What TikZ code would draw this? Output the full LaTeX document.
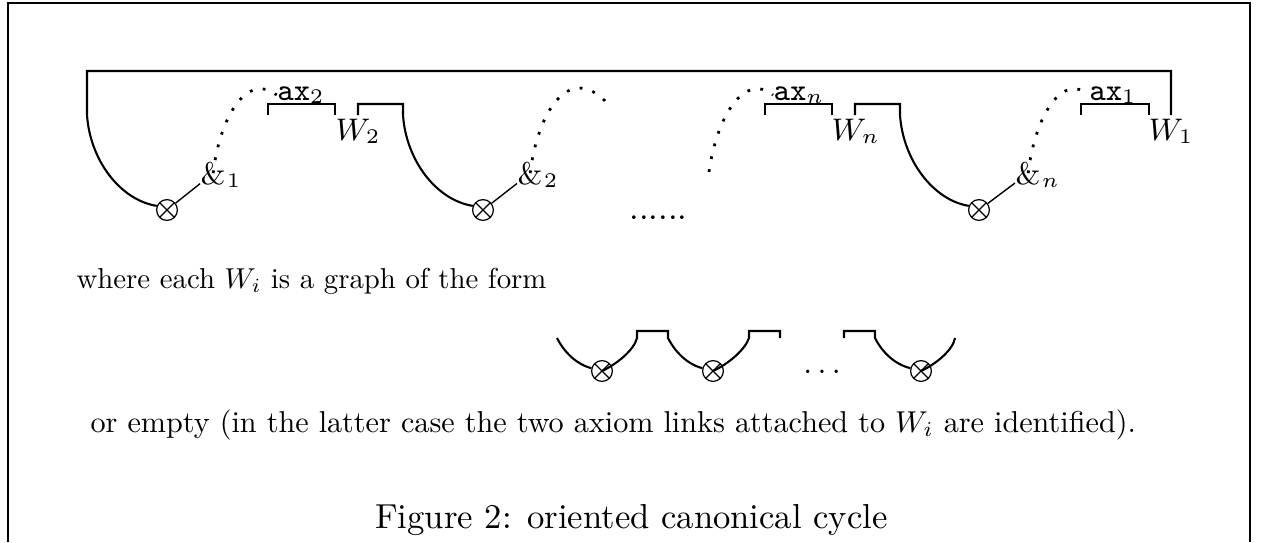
\documentclass[tikz,border=0pt]{standalone}
\tikzset{
  wire/.style={line width=0.6pt},
  thinwire/.style={line width=0.4pt},
  axlink/.style={line width=0.8pt, dash pattern=on 0.8pt off 3pt},
  tensor/.style={circle, draw, line width=0.35pt, inner sep=0pt, minimum size=6pt,
    path picture={\draw[line width=0.35pt]
      (path picture bounding box.north west) -- (path picture bounding box.south east)
      (path picture bounding box.south west) -- (path picture bounding box.north east);}},
  lbl/.style={inner sep=0pt, font=\fontsize{9}{11}\selectfont},
  txt/.style={inner sep=0pt, anchor=base west},
}
\begin{document}
\begin{tikzpicture}[x=0.2882pt,y=-0.2882pt]
\useasboundingbox (0,0) rectangle (1263,542);
% frame
\draw[line width=0.5pt] (8,542) -- (8,3) -- (1250,3) -- (1250,542);

% tensor links of the cycle
\node[tensor] (ot1) at (167,210) {};
\node[tensor] (ot2) at (483,210) {};
\node[tensor] (otn) at (979,210) {};

% par links
\node[lbl, anchor=base west] (amp1) at (200,184) {\&};
\node[lbl, anchor=base west] (amp1i) at (amp1.base east) {$_1$};
\node[lbl, anchor=base west] (amp2) at (517,184) {\&};
\node[lbl, anchor=base west] (amp2i) at (amp2.base east) {$_2$};
\node[lbl, anchor=base west] (ampn) at (1015,184) {\&};
\node[lbl, anchor=base west] (ampni) at (ampn.base east) {$_n$};

% axiom labels
\node[lbl, anchor=base] (ax2) at (301,100) {$\mathtt{ax}_2$};
\node[lbl, anchor=base] (axn) at (799,100) {$\mathtt{ax}_n$};
\node[lbl, anchor=base] (ax1) at (1113,100) {$\mathtt{ax}_1$};

% W labels
\node[lbl, anchor=base west] (W2) at (335,140) {$W_2$};
\node[lbl, anchor=base west] (Wn) at (831,140) {$W_n$};
\node[lbl, anchor=base west] (W1) at (1148,140) {$W_1$};

% wires
\draw[wire] (1171,115) -- (1171,71) -- (87,71) -- (87,115)
  .. controls (90,160) and (120,200) .. (ot1.158);
\draw[wire] (268,115) -- (268,104) -- (335,104) -- (335,115);
\draw[wire] (358,115) -- (358,104) -- (403,104) -- (403,115)
  .. controls (406,160) and (436,200) .. (ot2.158);
\draw[wire] (765,115) -- (765,104) -- (832,104) -- (832,115);
\draw[wire] (855,115) -- (855,104) -- (900,104) -- (900,115)
  .. controls (903,160) and (933,200) .. (otn.158);
\draw[wire] (1081,115) -- (1081,104) -- (1149,104) -- (1149,115);

% tensor to par
\draw[thinwire] (ot1) -- (amp1);
\draw[thinwire] (ot2) -- (amp2);
\draw[thinwire] (otn) -- (ampn);

% axiom links (dotted)
\coordinate (cut2) at (608,104);
\coordinate (cut3) at (709,172);
\draw[axlink] (amp1.center) .. controls (220,115) and (248,72) .. (ax2.west);
\draw[axlink] (amp2.center) .. controls (537,115) and (568,60) .. (cut2);
\draw[axlink] (cut3) .. controls (717,115) and (745,72) .. (axn.west);
\draw[axlink] (ampn.center) .. controls (1035,115) and (1063,72) .. (ax1.west);

\node[txt] (gap) at (629,219) {......};

% texts
\node[txt, scale=0.83] (where) at (76,288) {where each $W_i$ is a graph of the form};
\node[txt, scale=0.87] (orempty) at (90,432) {or empty (in the latter case the two axiom links attached to $W_i$ are identified).};
\node[inner sep=0pt, anchor=base] (caption) at (631.5,528) {Figure 2: oriented canonical cycle};

% the form of W_i
\node[tensor] (sa) at (602,371) {};
\node[tensor] (sb) at (713,371) {};
\node[tensor] (sc) at (921,371) {};
\draw[wire] (557,338) .. controls (563,350) and (575,364) .. (sa.165);
\draw[wire] (sa.center) .. controls (617,364) and (634,350) .. (637,338)
  -- (637,331) -- (668,331) -- (668,338)
  .. controls (674,350) and (686,364) .. (sb.165);
\draw[wire] (sb.center) .. controls (728,364) and (745,350) .. (749,338)
  -- (749,331) -- (780,331) -- (780,338);
\node[lbl, anchor=base] (sdots) at (822,373) {$\ldots$};
\draw[wire] (844,338) -- (844,331) -- (875,331) -- (875,338)
  .. controls (881,350) and (893,364) .. (sc.165);
\draw[wire] (sc.center) .. controls (936,364) and (953,350) .. (955,338);
\end{tikzpicture}
\end{document}
